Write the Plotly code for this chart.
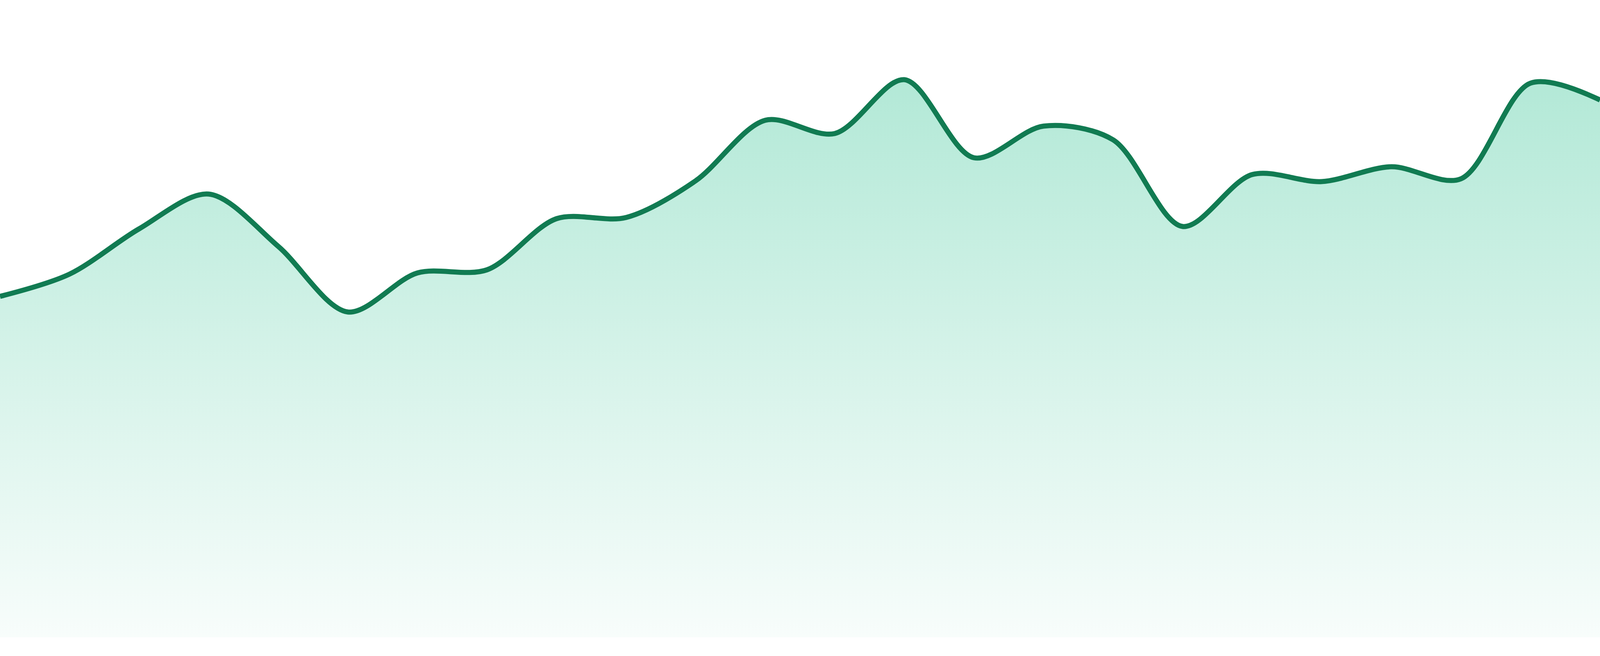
import plotly.graph_objects as go

# x positions (sample index) and values
points = list(range(24))
values = [873, 930, 1046, 1135, 1001, 833, 933, 941, 1072, 1075, 1169, 1324,
          1290, 1428, 1228, 1309, 1274, 1052, 1185, 1167, 1205, 1174, 1419, 1376]

LINE_COLOR = "#117b52"
LINE_WIDTH = 13

fig = go.Figure()
fig.add_trace(go.Scatter(
    x=points,
    y=values,
    mode="lines",
    line=dict(color=LINE_COLOR, width=LINE_WIDTH, shape="spline", smoothing=0.9),
    fill="tozeroy",
    fillgradient=dict(
        type="vertical",
        start=0,
        stop=max(values),
        colorscale=[[0, "rgba(16,185,129,0.03)"], [1, "rgba(16,185,129,0.32)"]],
    ),
    hoverinfo="skip",
))

fig.update_layout(
    width=4800,
    height=1680,
    autosize=False,
    margin=dict(l=0, r=0, t=0, b=0, pad=0),
    paper_bgcolor="white",
    plot_bgcolor="white",
    showlegend=False,
    xaxis=dict(visible=False, range=[0, 23], fixedrange=True),
    yaxis=dict(visible=False, range=[-48, 1632], fixedrange=True),
)

# fit the figure to the actual browser viewport (it may be narrower than asked)
post = """
document.documentElement.style.overflow = 'hidden';
document.body.style.overflow = 'hidden';
document.body.style.margin = '0';
var gd = document.getElementById('{plot_id}');
Plotly.relayout(gd, {width: window.innerWidth, height: window.innerHeight});
"""

fig.write_html("out.html", config={"displayModeBar": False}, post_script=post)
